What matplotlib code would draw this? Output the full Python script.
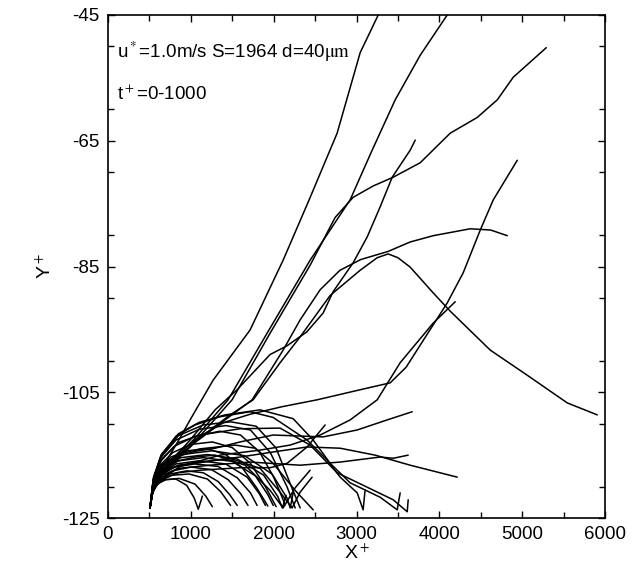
import matplotlib
matplotlib.use("Agg")
from matplotlib import pyplot as plt
from matplotlib.ticker import MultipleLocator

plt.rcParams['font.family'] = ['Liberation Sans', 'DejaVu Sans']
plt.rcParams['mathtext.fontset'] = 'stix'
plt.rcParams['axes.unicode_minus'] = False

# particle trajectories (X+, Y+)
# long tracks that leave the wall region
L1_x = [507, 530, 580, 689, 850, 991, 1268, 1715, 2114, 2428, 2766, 3044, 3262]
L1_y = [-123.4, -121.0, -118.6, -116.3, -112.7, -109.4, -103.1, -95.1, -84.0, -74.4, -63.8, -51.0, -45.0]
L2_x = [507, 540, 628, 809, 1051, 1450, 1921, 2440, 2923, 3189, 3467, 3769, 4095]
L2_y = [-123.4, -120.6, -118.4, -115.6, -112.3, -106.2, -95.6, -84.0, -74.4, -66.5, -58.5, -51.4, -45.0]
L3_x = [507, 540, 628, 833, 1087, 1498, 1957, 2440, 2742, 2959, 3200, 3443, 3769, 4131, 4457, 4699, 4892, 5291]
L3_y = [-123.4, -120.6, -118.4, -115.6, -112.3, -106.2, -95.6, -84.8, -77.2, -74.0, -72.2, -70.8, -68.5, -63.8, -61.3, -58.5, -54.9, -50.2]
L4_x = [507, 540, 640, 850, 1111, 1400, 1715, 2100, 2525, 3044, 3407, 3600, 3769, 4095, 4288, 4494, 4651, 4941]
L4_y = [-123.4, -120.6, -117.6, -114.6, -112.0, -109.8, -108.5, -107.3, -106.2, -104.6, -103.5, -101.0, -97.5, -90.8, -86.0, -79.2, -74.4, -68.1]
L5_x = [507, 545, 689, 991, 1293, 1558, 1957, 2162, 2400, 2597, 2718, 2960, 3129, 3286, 3431, 3648, 3709]
L5_y = [-123.4, -120.3, -117.0, -112.6, -107.8, -104.6, -99.0, -97.6, -95.4, -92.4, -89.0, -84.4, -80.3, -75.5, -70.8, -66.5, -64.9]
L6_x = [507, 545, 725, 1051, 1413, 1740, 2114, 2319, 2561, 2800, 3050, 3382, 3648, 3926, 4373, 4620, 4820]
L6_y = [-123.4, -120.2, -117.0, -113.0, -109.4, -106.2, -98.3, -93.5, -88.7, -85.6, -83.9, -82.6, -81.1, -80.1, -79.0, -79.2, -80.1]
L7_x = [507, 545, 749, 1111, 1474, 1752, 2078, 2319, 2682, 3044, 3250, 3382, 3500, 3648, 3926, 4131, 4615, 5062, 5545, 5907]
L7_y = [-123.4, -120.0, -116.4, -112.2, -108.6, -106.2, -100.3, -96.2, -89.6, -85.6, -83.6, -83.0, -83.6, -85.1, -89.2, -92.1, -98.3, -102.3, -106.7, -108.6]
L8_x = [507, 540, 628, 870, 1353, 1836, 2199, 2561, 2923, 3250, 3527, 3926, 4192]
L8_y = [-123.4, -120.8, -119.0, -116.8, -115.0, -114.2, -113.4, -111.8, -109.4, -106.2, -100.3, -94.0, -90.6]

# slowly rising tracks that end in mid air
E412_x = [507, 545, 640, 820, 1050, 1293, 1595, 1993, 2597, 3008, 3370, 3672]
E412_y = [-123.4, -119.5, -116.8, -115.3, -114.4, -113.9, -112.9, -111.8, -112.1, -111.0, -109.4, -108.1]
E457_x = [507, 545, 640, 850, 1111, 1595, 1993, 2404, 2803, 3225, 3648, 4216]
E457_y = [-123.4, -120.0, -117.8, -116.6, -116.1, -115.3, -114.5, -113.7, -113.9, -115.0, -116.6, -118.5]
E408_x = [507, 545, 640, 850, 1232, 1715, 2319, 2803, 3286, 3443, 3624]
E408_y = [-123.4, -120.3, -118.3, -117.1, -116.6, -116.1, -116.6, -116.1, -115.3, -115.5, -115.0]
E325_x = [507, 545, 640, 850, 1111, 1595, 1957, 2162, 2404, 2621]
E325_y = [-123.4, -120.6, -118.9, -117.8, -117.4, -117.0, -117.0, -116.3, -113.7, -110.2]

# high arcs that come back down to the wall far downstream
D360_x = [507, 550, 640, 820, 1050, 1350, 1715, 1993, 2404, 2646, 2803, 3008, 3080, 3104]
D360_y = [-123.4, -118.8, -115.2, -112.0, -110.2, -108.9, -108.1, -109.0, -112.6, -115.8, -118.5, -121.0, -123.7, -120.5]
D397_x = [507, 550, 650, 850, 1100, 1413, 1836, 2235, 2477, 2682, 2923, 3286, 3491, 3527]
D397_y = [-123.4, -118.5, -114.8, -111.6, -109.8, -108.6, -107.8, -109.2, -112.6, -116.3, -119.4, -121.7, -123.7, -121.0]
D407_x = [507, 550, 650, 850, 1111, 1595, 2078, 2440, 2766, 3129, 3443, 3612, 3624]
D407_y = [-123.4, -118.9, -115.6, -113.0, -111.8, -110.8, -110.7, -113.4, -117.8, -120.1, -122.1, -124.0, -122.1]
D312_x = [507, 545, 640, 850, 1111, 1534, 1776, 1993, 2259, 2477]
D312_y = [-123.4, -119.6, -116.6, -114.9, -114.0, -113.4, -113.9, -116.3, -120.6, -123.7]

# tracks that bounce and lift again
R1_x = [507, 545, 640, 820, 1050, 1293, 1655, 1957, 2114, 2259, 2440]
R1_y = [-123.4, -120.0, -117.4, -116.0, -115.3, -115.0, -116.6, -120.6, -123.4, -120.2, -117.4]
R2_x = [507, 545, 640, 850, 1111, 1474, 1836, 2078, 2223, 2319, 2464]
R2_y = [-123.4, -120.2, -117.8, -116.7, -116.2, -115.5, -117.1, -120.9, -123.4, -120.9, -118.5]

# low arcs near the start
B1_x = [507, 530, 580, 680, 820, 950, 1040, 1090, 1140]
B1_y = [-123.4, -121.3, -119.8, -118.9, -118.8, -119.8, -121.8, -123.6, -121.5]
B2_x = [507, 535, 600, 750, 950, 1150, 1330, 1470, 1560]
B2_y = [-123.4, -121.0, -119.3, -118.0, -117.5, -117.8, -119.2, -121.3, -123.0]
B3_x = [507, 540, 610, 780, 1000, 1250, 1450, 1600, 1690]
B3_y = [-123.4, -120.8, -118.9, -117.5, -116.9, -117.3, -118.9, -121.1, -123.0]
B4_x = [507, 545, 620, 800, 1050, 1330, 1560, 1720, 1800]
B4_y = [-123.4, -120.5, -118.4, -116.9, -116.4, -116.8, -118.6, -121.0, -123.0]
B5_x = [507, 545, 630, 820, 1100, 1420, 1680, 1830, 1900]
B5_y = [-123.4, -120.3, -118.0, -116.4, -115.9, -116.4, -118.5, -121.2, -123.0]
B6_x = [507, 550, 640, 850, 1150, 1500, 1780, 1930, 1995]
B6_y = [-123.4, -120.0, -117.6, -115.9, -115.4, -116.0, -118.3, -121.3, -123.0]
B7_x = [507, 550, 650, 880, 1200, 1560, 1880, 2050, 2105, 2150]
B7_y = [-123.4, -119.8, -117.2, -115.4, -114.9, -115.6, -118.2, -121.6, -123.4, -121.4]
B8_x = [507, 555, 660, 900, 1260, 1650, 1980, 2160, 2200, 2235]
B8_y = [-123.4, -119.5, -116.8, -114.9, -114.3, -115.1, -118.0, -121.8, -123.4, -121.0]
B9_x = [507, 538, 605, 770, 980, 1200, 1360, 1480]
B9_y = [-123.4, -121.0, -119.2, -118.2, -118.0, -118.8, -120.8, -123.0]
B10_x = [507, 532, 590, 700, 860, 1050, 1180, 1260]
B10_y = [-123.4, -121.2, -119.6, -118.9, -118.7, -119.6, -121.5, -123.2]

# middle arcs
M1_x = [507, 540, 620, 800, 1050, 1350, 1600, 1830, 2000, 2140]
M1_y = [-123.4, -119.5, -116.2, -113.6, -112.0, -111.2, -111.8, -114.5, -118.5, -122.9]
M2_x = [507, 545, 630, 820, 1100, 1420, 1720, 1960, 2160, 2260]
M2_y = [-123.4, -119.0, -115.5, -112.6, -110.9, -110.3, -111.0, -114.6, -120.0, -123.4]
M3_x = [507, 550, 640, 850, 1150, 1480, 1790, 2030, 2220, 2320]
M3_y = [-123.4, -118.6, -115.0, -111.9, -110.2, -109.7, -110.4, -113.9, -120.2, -123.4]
M4_x = [507, 540, 615, 780, 1000, 1260, 1500, 1720, 1900, 2030]
M4_y = [-123.4, -119.8, -116.8, -114.6, -113.3, -112.9, -113.8, -116.3, -120.0, -123.2]
M5_x = [507, 538, 610, 760, 960, 1200, 1420, 1620, 1800, 1930]
M5_y = [-123.4, -120.0, -117.3, -115.3, -114.3, -114.0, -114.9, -117.0, -120.3, -123.1]

tracks = [(L1_x, L1_y), (L2_x, L2_y), (L3_x, L3_y), (L4_x, L4_y), (L5_x, L5_y),
          (L6_x, L6_y), (L7_x, L7_y), (L8_x, L8_y),
          (E412_x, E412_y), (E457_x, E457_y), (E408_x, E408_y), (E325_x, E325_y),
          (D360_x, D360_y), (D397_x, D397_y), (D407_x, D407_y), (D312_x, D312_y),
          (R1_x, R1_y), (R2_x, R2_y),
          (B1_x, B1_y), (B2_x, B2_y), (B3_x, B3_y), (B4_x, B4_y), (B5_x, B5_y),
          (B6_x, B6_y), (B7_x, B7_y), (B8_x, B8_y), (B9_x, B9_y), (B10_x, B10_y),
          (M1_x, M1_y), (M2_x, M2_y), (M3_x, M3_y), (M4_x, M4_y), (M5_x, M5_y)]

fig = plt.figure(figsize=(6.33, 5.70), dpi=100)
ax = fig.add_axes([0.1706, 0.0912, 0.7852, 0.8825])

for tx, ty in tracks:
    ax.plot(tx, ty, color='black', lw=1.1, solid_joinstyle='round', solid_capstyle='round')

ax.set_xlim(0, 6000)
ax.set_ylim(-125, -45)
ax.set_xticks([0, 1000, 2000, 3000, 4000, 5000, 6000])
ax.set_yticks([-125, -105, -85, -65, -45])
ax.xaxis.set_minor_locator(MultipleLocator(500))
ax.yaxis.set_minor_locator(MultipleLocator(10))
ax.tick_params(which='both', direction='in', top=True, right=True, labelsize=13.5, width=1.0)
ax.tick_params(which='major', length=5, pad=6)
ax.tick_params(which='minor', length=4)
for s in ax.spines.values():
    s.set_linewidth(1.2)

ax.set_xlabel(r'X$^+$', fontsize=14, labelpad=0)
ax.set_ylabel(r'Y$^+$', fontsize=14, labelpad=5)

ax.text(0.018, 0.926, r'u$^*$=1.0m/s S=1964 d=40$\mathrm{\mu m}$', transform=ax.transAxes,
        fontsize=13.5, va='center', ha='left')
ax.text(0.018, 0.843, r't$^+$=0-1000', transform=ax.transAxes,
        fontsize=13.5, va='center', ha='left')

fig.savefig('out.png', dpi=100)
